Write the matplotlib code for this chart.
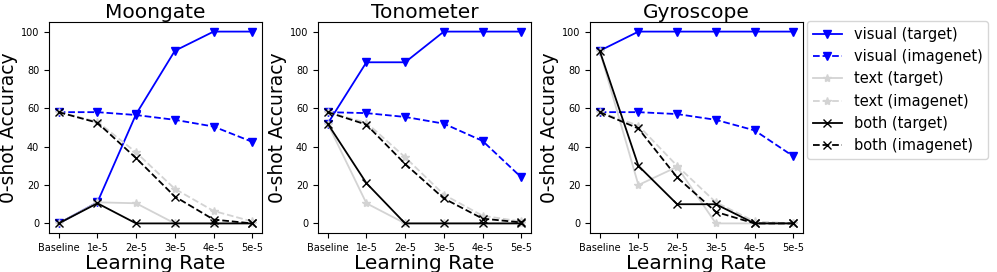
import matplotlib.pyplot as plt

lr_labels = ['Baseline', '1e-5', '2e-5', '3e-5', '4e-5', '5e-5']
datasets = ['Moongate', 'Tonometer', 'Gyroscope']

# accuracy values per dataset
visual_target = {
    'Moongate': [0, 11, 57, 90, 100, 100],
    'Tonometer': [52, 84, 84, 100, 100, 100],
    'Gyroscope': [90, 100, 100, 100, 100, 100],
}
visual_imagenet = {
    'Moongate': [58, 58, 56.5, 54, 50.5, 42.5],
    'Tonometer': [58, 57.5, 55.5, 52, 43, 24],
    'Gyroscope': [58, 58, 57, 54, 48.5, 35],
}
text_target = {
    'Moongate': [0, 11, 10.5, 0, 0, 0],
    'Tonometer': [52, 10.5, 0, 0, 0, 0],
    'Gyroscope': [90, 20, 29.5, 0, 0, 0],
}
text_imagenet = {
    'Moongate': [58, 53, 37, 18, 6.5, 1],
    'Tonometer': [58, 52.5, 34.5, 15, 4, 1],
    'Gyroscope': [58, 51, 30, 11, 1, 0],
}
both_target = {
    'Moongate': [0, 10.5, 0, 0, 0, 0],
    'Tonometer': [52, 21, 0, 0, 0, 0],
    'Gyroscope': [90, 30, 10, 10, 0, 0],
}
both_imagenet = {
    'Moongate': [58, 52.5, 34, 14, 2, 0],
    'Tonometer': [58, 51.5, 31, 13, 2.5, 0.5],
    'Gyroscope': [58, 49.5, 24, 6, 0, 0],
}

series = [
    ('visual (target)', visual_target, 'blue', '-', 'v', 6),
    ('visual (imagenet)', visual_imagenet, 'blue', '--', 'v', 6),
    ('text (target)', text_target, 'lightgrey', '-', '*', 6),
    ('text (imagenet)', text_imagenet, 'lightgrey', '--', '*', 6),
    ('both (target)', both_target, 'black', '-', 'x', 6),
    ('both (imagenet)', both_imagenet, 'black', '--', 'x', 6),
]

fig = plt.figure(figsize=(9.97, 2.72), dpi=100)
W, H = 997, 272
lefts = [49, 318, 590]
x = list(range(len(lr_labels)))

for left, name in zip(lefts, datasets):
    ax = fig.add_axes([left / W, (H - 233) / H, 213 / W, 211 / H])
    for label, d, c, ls, m, ms in series:
        ax.plot(x, d[name], color=c, linestyle=ls, marker=m, markersize=ms,
                linewidth=1.3, label=label)
    ax.set_title(name, fontsize=14.5, pad=3)
    ax.set_xlabel('Learning Rate', fontsize=14.5, labelpad=1)
    ax.set_ylabel('0-shot Accuracy', fontsize=13.5, labelpad=2)
    ax.set_xticks(x)
    ax.set_xticklabels(lr_labels, fontsize=7)
    ax.set_yticks([0, 20, 40, 60, 80, 100])
    ax.tick_params(axis='y', labelsize=7)
    ax.set_ylim(-5, 105)

handles, labels = ax.get_legend_handles_labels()
fig.legend(handles, labels, loc='upper left', bbox_to_anchor=(807 / W, 1 - 21 / H),
           fontsize=10.5, handlelength=2, borderaxespad=0)

fig.savefig('out.png', dpi=100)
